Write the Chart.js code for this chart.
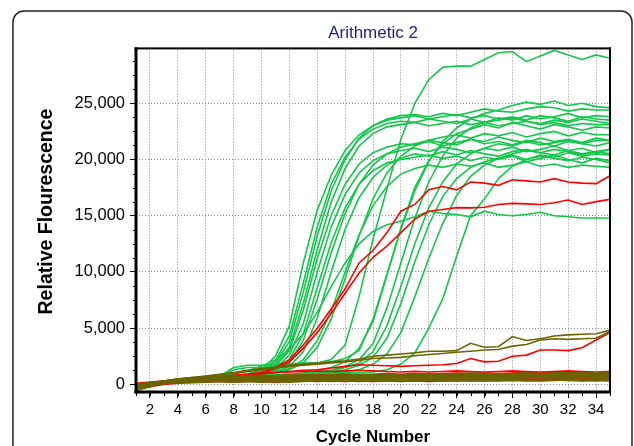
<!DOCTYPE html>
<html><head><meta charset="utf-8">
<script src="https://cdn.jsdelivr.net/npm/chart.js@4.4.1/dist/chart.umd.min.js"></script>
<style>html,body{margin:0;padding:0;background:#fff;}canvas{display:block;}</style>
</head><body>
<canvas id="c" width="634" height="446"></canvas>
<script>
const cycles = [1,2,3,4,5,6,7,8,9,10,11,12,13,14,15,16,17,18,19,20,21,22,23,24,25,26,27,28,29,30,31,32,33,34,35];
const xTickLabels = [2,4,6,8,10,12,14,16,18,20,22,24,26,28,30,32,34];
const yTickValues = [0,5000,10000,15000,20000,25000];
const yMinorTicks = [1250,2500,3750,6250,7500,8750,11250,12500,13750,16250,17500,18750,21250,22500,23750,26250,27500,28750];
const chartTitle = 'Arithmetic 2';
const xTitle = 'Cycle Number';
const yTitle = 'Relative Flourescence';

// olive (slowly rising)
const oliveRiseA = [-100,100,300,450,600,750,900,1050,1250,1400,1550,1700,1800,1900,2000,2100,2250,2500,2600,2700,2800,2950,2950,3000,3650,3300,3350,4250,3900,4050,4300,4400,4450,4500,4800];
const oliveRiseB = [-200,50,250,400,550,700,850,1000,1150,1300,1450,1600,1700,1800,1900,2000,2150,2300,2350,2400,2550,2650,2750,2850,2950,3050,3100,3400,3550,3950,4050,4000,4050,4100,4700];
// olive baselines
const olive01 = [-300,-100,50,150,200,200,250,200,250,200,250,200,250,300,250,300,250,300,300,250,300,350,300,300,350,300,350,400,350,300,350,400,350,350,400];
const olive02 = [-200,0,150,250,300,300,350,300,350,350,300,350,400,350,350,400,350,400,400,350,400,450,400,400,450,400,450,500,400,450,450,500,450,450,500];
const olive03 = [-400,-100,100,250,350,400,450,400,450,450,400,450,500,450,500,450,500,550,500,500,550,500,550,600,550,550,600,550,600,650,600,600,650,600,600];
const olive04 = [-100,100,250,350,400,450,500,500,450,500,550,500,550,500,550,600,550,600,550,600,600,650,600,650,600,650,700,650,700,650,700,700,650,700,700];
const olive05 = [-300,0,200,350,450,500,550,550,600,550,600,600,550,600,650,600,650,600,650,700,650,700,650,700,750,700,700,750,700,800,750,800,750,750,800];
const olive06 = [-200,50,250,400,500,550,600,650,600,650,600,650,700,650,700,650,700,750,700,700,750,700,750,800,750,800,750,800,850,800,850,800,800,850,800];
const olive07 = [0,150,300,450,550,600,650,650,700,650,700,700,650,700,750,700,750,700,800,750,800,750,800,850,800,850,800,900,850,850,900,850,900,850,900];
const olive08 = [-300,50,300,450,550,650,700,700,750,700,750,800,750,800,750,800,850,800,850,800,850,900,850,900,850,900,950,900,950,900,950,900,950,950,900];
const olive09 = [-200,100,300,500,600,650,700,750,750,800,750,800,850,800,850,800,900,850,900,850,900,950,900,950,1000,950,900,950,1000,950,1000,1050,1000,1000,950];
const olive10 = [-500,-200,100,300,400,450,500,450,550,500,450,550,500,450,550,500,600,550,500,600,550,650,600,550,650,600,550,650,600,700,650,600,700,650,650];
const olive11 = [-100,100,200,300,400,500,600,600,650,600,650,700,700,650,700,750,700,750,800,750,800,800,850,800,850,900,850,900,950,900,950,1000,950,1000,1000];
const olive12 = [-300,-50,150,300,400,450,500,550,500,550,600,550,600,600,650,600,650,700,650,700,700,750,700,750,800,750,800,800,850,800,850,900,850,900,850];

// red
const redA = [-200,50,250,400,500,600,700,800,900,1050,1500,2200,3500,5000,6700,8500,10800,11900,13500,15400,16000,17300,17600,17300,18000,17900,17700,18200,18100,18000,18300,18000,17900,17850,18550];
const redB = [-300,0,200,350,450,550,650,750,850,1000,1400,2000,3200,4600,6300,8100,9900,11300,12300,13500,14700,15400,15550,15720,15700,15750,16000,16100,16050,16000,16150,16400,16000,16250,16450];
const redC = [-200,0,200,350,450,550,650,750,850,950,1050,1150,1250,1300,1450,1600,1750,1700,1650,1600,1650,1700,1750,1850,2300,2000,2050,2500,2600,3050,3050,3000,3250,3950,4600];
const red01 = [-200,0,150,250,300,350,400,400,450,400,450,450,400,450,500,450,500,450,500,550,500,500,550,500,550,600,550,500,550,600,550,600,550,600,550];
const red02 = [100,200,300,400,500,550,600,650,700,700,750,800,800,850,850,900,850,900,950,900,950,900,950,1000,950,1000,950,1000,1050,1000,1050,1000,1050,1000,1000];
const red03 = [-400,-200,0,100,150,200,250,200,250,250,200,250,300,250,300,250,300,250,300,350,300,250,300,350,300,350,300,350,300,350,400,350,300,350,300];
const red04 = [-300,0,200,350,450,550,650,750,850,950,1050,1100,1150,1200,1150,1200,1250,1200,1150,1100,1150,1100,1150,1200,1150,1100,1150,1200,1150,1100,1150,1200,1150,1100,1150];

// green
const green01 = [-300,0,250,400,500,600,700,800,950,1300,2500,5200,10800,15500,18600,20800,22200,23000,23500,23700,23900,23600,23800,24000,23700,23900,23600,23800,23500,23900,23700,23400,23800,23600,23500];
const green02 = [-200,50,300,400,500,550,650,750,900,1200,2100,4300,9000,14000,17800,20200,21800,22700,23200,23400,23300,23600,23400,23200,23600,23300,23500,23700,23400,23200,23500,23300,23600,23400,23200];
const green03 = [-400,-50,200,350,450,550,650,750,900,1100,1900,3800,8200,13200,17200,20000,21900,23000,23600,23900,24000,23800,24100,23900,24200,24500,24300,24200,24500,24700,24600,24300,24500,24400,24400];
const green04 = [-300,0,250,350,450,500,600,700,850,1050,1700,3300,7200,12000,16200,19200,21200,22300,22900,23100,23300,23000,23200,23400,23100,23300,23000,23200,23400,23100,23300,23000,23200,23100,23100];
const green05 = [-300,0,200,350,450,550,650,750,900,1100,1600,3000,6600,11200,15000,17800,19600,20600,21100,21400,21300,21600,21200,21500,21800,21400,21600,21300,21700,21500,21200,21600,21400,21700,21700];
const green06 = [-200,50,250,400,500,600,650,750,850,1000,1400,2600,5400,10000,14000,16900,18800,19900,20500,20800,21000,20700,21100,20900,20600,21000,20800,21100,20700,20900,21200,20800,21000,20600,20900];
const green07 = [-400,-100,200,350,450,550,600,700,800,950,1300,2200,4500,8600,12600,15700,17800,19000,19700,20000,20200,20400,20100,20300,19900,20200,20000,20300,19800,20100,20400,20000,19700,20100,19900];
const green08 = [-300,0,250,400,500,600,650,750,850,950,1200,1900,3900,7600,11700,15200,17800,19500,20500,21100,21400,21700,21500,21300,21800,21600,22000,21700,21500,21900,21600,21800,21500,21900,21700];
const green09 = [-200,50,250,350,450,550,650,700,800,900,1100,1600,2900,5900,10000,13800,16600,18400,19500,20100,20500,20300,20700,20400,20800,20500,20300,20700,20900,20600,20400,20800,20500,20700,20900];
const green10 = [-300,0,200,350,450,500,600,700,800,900,1050,1400,2200,3900,6500,10000,13300,15900,17600,18700,19200,19500,19300,19600,19400,19700,19300,19500,19800,19400,19600,19300,19500,19400,19300];
const green11 = [-300,0,250,350,450,550,650,700,800,900,1000,1300,1900,3300,5800,9400,13200,16500,18800,20300,21200,21700,22000,22200,21900,22300,22100,22400,22000,22300,22500,22100,22400,22200,22200];
const green12 = [-200,50,250,400,500,600,700,900,1200,1600,2200,3100,4500,6400,8700,10800,12500,13600,14200,14500,14900,15400,15200,15100,14900,15400,15100,15000,15100,15300,15000,14900,14800,14800,14800];
const green13 = [-300,0,200,350,450,550,700,1500,1700,1700,1800,1800,1900,1900,2000,2300,3000,5800,9800,13800,17200,19800,21600,22800,23600,24100,24400,24800,25100,24900,25200,24800,25000,24700,24600];
const green14 = [-400,-100,150,300,400,500,550,650,700,750,800,850,950,1050,1250,1600,2200,3600,6800,10800,14800,18000,20300,21900,22800,23300,23700,23500,23900,23600,23800,24100,23700,23900,23800];
const green15 = [-300,0,200,350,450,500,600,650,700,750,800,900,950,1050,1200,1500,1900,2900,5200,8700,12500,15700,18000,19600,20500,21000,21400,21200,21600,21300,21500,21700,21400,21200,21500];
const green16 = [-200,50,250,350,450,500,550,650,700,750,800,850,900,1000,1100,1300,1700,2400,4100,7200,10900,14200,16700,18300,19300,19800,20100,20400,20000,20300,20100,19900,20200,20000,19700];
const green17 = [-300,0,200,350,450,500,600,1300,1500,1500,1600,1700,1800,1900,2200,3500,7800,12900,17400,21800,25000,27100,28200,28300,28300,28900,29500,29600,28700,29200,29700,29300,28900,29300,29000];
const green18 = [-300,0,200,300,400,500,600,650,700,750,800,900,1000,1200,1500,2000,3200,5600,9700,13900,17500,19900,21400,22300,22700,23100,22800,23300,23000,22700,23100,22900,22600,22900,22800];
const green19 = [-300,0,200,350,400,500,550,600,650,700,750,800,850,900,1000,1100,1300,1800,2700,4600,7800,11200,14300,16800,18500,19500,20100,20500,20800,20600,20900,20700,20400,20700,20500];
const green20 = [-300,0,200,300,400,500,550,600,650,700,750,800,850,900,950,1000,1050,1100,1300,1800,2800,5000,7600,11400,15000,16500,18300,19400,20000,20400,20200,20600,20300,20500,20400];
const greenBase1 = [-600,-200,100,300,400,450,500,500,550,500,550,500,550,600,550,600,550,600,550,600,650,600,650,600,650,600,650,700,650,700,650,700,650,700,650];
const greenBase2 = [-200,50,200,300,350,400,400,450,400,450,400,450,500,450,500,450,500,450,500,550,500,550,500,550,500,550,600,550,600,550,600,550,600,550,600];

const OLIVE = '#6b6500', RED = '#ff0000', GREEN = '#12c84a';
const oliveSeries = [olive01,olive02,olive03,olive04,olive05,olive06,olive07,olive08,olive09,olive10,olive11,olive12,oliveRiseA,oliveRiseB];
const redSeries = [red01,red02,red03,red04,redC,redA,redB];
const greenSeries = [greenBase1,greenBase2,green01,green02,green03,green04,green05,green06,green07,green08,green09,green10,green11,green12,green13,green14,green15,green16,green17,green18,green19,green20];

function toPoints(values){ return cycles.map((c,i)=>({x:c,y:values[i]})); }
function mk(values,color){ return {data:toPoints(values),borderColor:color,borderWidth:1.6,pointRadius:0,fill:false,tension:0}; }
const datasets = [].concat(oliveSeries.map(v=>mk(v,OLIVE)), redSeries.map(v=>mk(v,RED)), greenSeries.map(v=>mk(v,GREEN)));

const FONT = "'Liberation Sans', Arial, Helvetica, sans-serif";

const framePlugin = {
  id:'frame',
  beforeDraw(chart){ const c=chart.ctx; c.save(); c.fillStyle='#fff'; c.fillRect(0,0,chart.width,chart.height); c.restore(); },
  afterDraw(chart){
    const c=chart.ctx, a=chart.chartArea, x=chart.scales.x, y=chart.scales.y;
    c.save();
    c.strokeStyle='#222'; c.lineWidth=1.5;
    c.beginPath(); c.moveTo(13,450); c.lineTo(13,22); c.arcTo(13,11,24,11,11); c.lineTo(621,11); c.arcTo(632,11,632,22,11); c.lineTo(632,450); c.stroke();
    c.strokeStyle='#000'; c.lineWidth=1; c.beginPath();
    cycles.forEach(v=>{ const px=Math.round(x.getPixelForValue(v))+0.5; c.moveTo(px,a.bottom); c.lineTo(px,a.bottom+4); });
    yMinorTicks.forEach(v=>{ const py=Math.round(y.getPixelForValue(v))+0.5; c.moveTo(a.left-3,py); c.lineTo(a.left,py); });
    c.stroke();
    c.fillStyle='#000';
    c.fillRect(a.left-1.5, a.top-1, a.right-a.left+2.5, 2);
    c.fillRect(a.right-1, a.top-1, 2, a.bottom-a.top+2);
    c.fillRect(a.left-1.5, a.top-1, 3, a.bottom-a.top+2.5);
    c.fillRect(a.left-1.5, a.bottom-1.5, a.right-a.left+2.5, 3);
    // y axis title
    c.translate(46.5, 211.5); c.rotate(-Math.PI/2);
    c.font = "bold 19.5px " + FONT; c.textAlign='center'; c.textBaseline='middle'; c.fillStyle='#000';
    c.fillText(yTitle, 0, 0);
    c.restore();
  }
};

new Chart(document.getElementById('c'), {
  type:'line',
  data:{datasets},
  options:{
    responsive:false, animation:false, devicePixelRatio:1,
    layout:{padding:{top:12,left:0,right:24,bottom:0}},
    plugins:{
      legend:{display:false}, tooltip:{enabled:false},
      title:{display:true,text:chartTitle,color:'#1c1c8c',font:{family:FONT,size:17,weight:'normal'},padding:{top:11,bottom:5},fullSize:false}
    },
    scales:{
      x:{type:'linear',min:1,max:35,
        afterBuildTicks:s=>{ s.ticks = xTickLabels.map(v=>({value:v})); },
        afterFit:s=>{ s.height = 54; },
        ticks:{color:'#000',font:{family:FONT,size:15},padding:3,maxRotation:0,autoSkip:false,callback:v=>String(v)},
        grid:{color:'#8a8a8a',lineWidth:1,drawTicks:true,tickLength:6,tickColor:'#000',tickWidth:1,tickBorderDash:[]},
        border:{display:false,dash:[1,2]},
        title:{display:true,text:xTitle,color:'#000',font:{family:FONT,size:17,weight:'bold',lineHeight:1},padding:{top:0,bottom:0}}
      },
      y:{min:-680,max:29880,
        afterBuildTicks:s=>{ s.ticks = yTickValues.map(v=>({value:v})); },
        afterFit:s=>{ s.width = 136; },
        ticks:{color:'#000',font:{family:FONT,size:16.5},padding:5,callback:v=>Number(v).toLocaleString('en-US')},
        grid:{color:'#8a8a8a',lineWidth:1,drawTicks:true,tickLength:6,tickColor:'#000',tickWidth:1,tickBorderDash:[]},
        border:{display:false,dash:[1,2]},
        title:{display:false}
      }
    }
  },
  plugins:[framePlugin]
});
</script>
</body></html>
